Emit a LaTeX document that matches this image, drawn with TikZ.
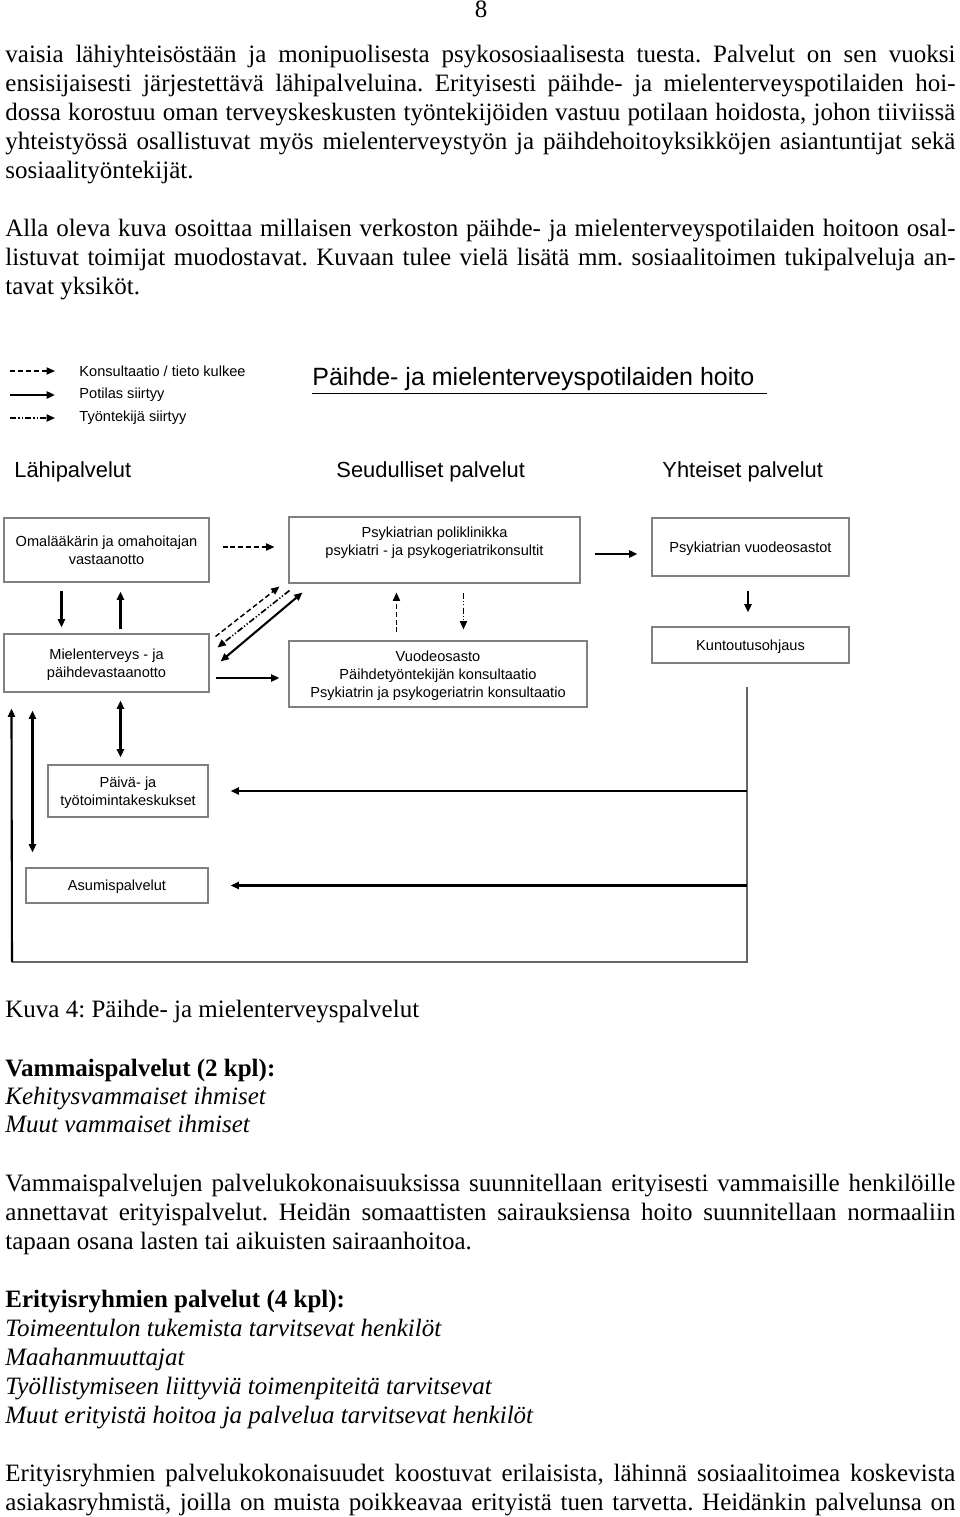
\documentclass[tikz,border=0pt]{standalone}
\usepackage{fontspec}
\setmainfont{Liberation Serif}
\setsansfont{Liberation Sans}
\usetikzlibrary{arrows.meta}
\newdimen\px \px=0.48pt
\newcommand{\jline}[1]{\makebox[456pt][s]{#1}}
\frenchspacing

\begin{document}
\begin{tikzpicture}[
    x=0.48pt, y=-0.48pt,
    every node/.style={inner sep=0pt},
    txt/.style={anchor=base west, font=\fontsize{12}{14}\selectfont},
    head/.style={anchor=west, font=\sffamily\fontsize{10.5}{12}\selectfont},
    legend/.style={anchor=west, font=\sffamily\fontsize{7}{8.6}\selectfont},
    box/.style={draw=black!50, line width=0.5pt, align=center, font=\sffamily\fontsize{7}{8.6}\selectfont, text depth=-1.4pt},
    info/.style={-{Triangle[length=4pt, width=3.4pt]}, line width=0.7pt, dash pattern=on 2.4pt off 1.4pt},
    patient/.style={-{Triangle[length=4pt, width=3.4pt]}, line width=1pt},
    worker/.style={-{Triangle[length=4pt, width=3.4pt]}, line width=0.8pt, dash pattern=on 3pt off 1pt on 0.6pt off 1pt on 0.6pt off 1pt},
    trunk/.style={line width=0.6pt, black!60}
]
    \useasboundingbox (0,0) rectangle (960,1517);

    \node[font=\fontsize{12}{14}\selectfont, anchor=base] (sivu) at (481,18) {8};

    \node[txt] (t1) at (5,63) {\jline{vaisia lähiyhteisöstään ja monipuolisesta psykososiaalisesta tuesta. Palvelut on sen vuoksi}};
    \node[txt] (t2) at (5,92) {\jline{ensisijaisesti järjestettävä lähipalveluina. Erityisesti päihde- ja mielenterveyspotilaiden hoi-}};
    \node[txt] (t3) at (5,121) {\jline{dossa korostuu oman terveyskeskusten työntekijöiden vastuu potilaan hoidosta, johon tiiviissä}};
    \node[txt] (t4) at (5,150) {\jline{yhteistyössä osallistuvat myös mielenterveystyön ja päihdehoitoyksikköjen asiantuntijat sekä}};
    \node[txt] (t5) at (5,179) {sosiaalityöntekijät.};
    \node[txt] (t6) at (5,237) {\jline{Alla oleva kuva osoittaa millaisen verkoston päihde- ja mielenterveyspotilaiden hoitoon osal-}};
    \node[txt] (t7) at (5,266) {\jline{listuvat toimijat muodostavat. Kuvaan tulee vielä lisätä mm. sosiaalitoimen tukipalveluja an-}};
    \node[txt] (t8) at (5,295) {tavat yksiköt.};

    \node[legend] (lkons) at (79,371) {Konsultaatio / tieto kulkee};
    \node[legend] (lpot) at (79,395) {Potilas siirtyy};
    \node[legend] (ltyo) at (79,418) {Työntekijä siirtyy};
    \draw[info] ([shift={(-69,0)}]lkons.west) -- ([shift={(-24,0)}]lkons.west);
    \draw[patient] ([shift={(-69,0)}]lpot.west) -- ([shift={(-24,0)}]lpot.west);
    \draw[worker] ([shift={(-69,0)}]ltyo.west) -- ([shift={(-24,0)}]ltyo.west);

    \node[anchor=west, font=\sffamily\fontsize{12}{14}\selectfont] (otsikko) at (312,381) {\underline{Päihde- ja mielenterveyspotilaiden hoito\kern6pt}};

    \node[head] (lahi) at (14,472) {Lähipalvelut};
    \node[head] (seutu) at (336,472) {Seudulliset palvelut};
    \node[head] (yhteis) at (662,472) {Yhteiset palvelut};

    \node[box, minimum width=205\px, minimum height=64\px] (oma) at (106.5,550) {Omalääkärin ja omahoitajan\\vastaanotto};
    \node[box, minimum width=291\px, minimum height=66\px] (poli) at (434.5,550) {Psykiatrian poliklinikka\\psykiatri - ja psykogeriatrikonsultit\\\strut};
    \node[box, minimum width=197\px, minimum height=58\px] (osastot) at (750.5,547) {Psykiatrian vuodeosastot};
    \node[box, minimum width=197\px, minimum height=36\px] (kuntoutus) at (750.5,645) {Kuntoutusohjaus};
    \node[box, minimum width=205\px, minimum height=58\px] (miel) at (106.5,663) {Mielenterveys - ja\\päihdevastaanotto};
    \node[box, minimum width=298\px, minimum height=66\px] (vuode) at (438,674) {Vuodeosasto\\Päihdetyöntekijän konsultaatio\\Psykiatrin ja psykogeriatrin konsultaatio};
    \node[box, minimum width=160\px, minimum height=52\px] (paiva) at (128,791) {Päivä- ja\\työtoimintakeskukset};
    \node[box, minimum width=182\px, minimum height=35\px] (asumis) at (117,885.5) {Asumispalvelut};

    \draw[info] ([shift={(13,-3)}]oma.east) -- ([shift={(-14,-3)}]poli.west);
    \draw[patient] ([shift={(14,4)}]poli.east) -- ([shift={(-14,7)}]osastot.west);
    \draw[patient] ([shift={(-2.5,14)}]osastot.south) -- ([shift={(-2.5,-14)}]kuntoutus.north);

    \draw[patient] ([shift={(58,8)}]oma.south west) -- ([shift={(58,-6)}]miel.north west);
    \draw[patient] ([shift={(117,-4)}]miel.north west) -- ([shift={(117,9)}]oma.south west);

    \draw[info] ([shift={(6,3)}]miel.north east) -- ([shift={(-9,3)}]poli.south west);
    \draw[worker] ([shift={(1,7)}]poli.south west) -- ([shift={(8,14)}]miel.north east);
    \draw[patient, {Triangle[length=4pt, width=3.4pt]}-{Triangle[length=4pt, width=3.4pt]}] ([shift={(11,28)}]miel.north east) -- ([shift={(14,9)}]poli.south west);

    \draw[patient] ([shift={(6,15)}]miel.east) -- ([shift={(-9,4)}]vuode.west);
    \draw[info] ([shift={(108,-8)}]vuode.north west) -- ([shift={(108,9)}]poli.south west);
    \draw[worker] ([shift={(175,9)}]poli.south west) -- ([shift={(175,-11)}]vuode.north west);

    \draw[patient, {Triangle[length=4pt, width=3.4pt]}-{Triangle[length=4pt, width=3.4pt]}] ([shift={(117,8)}]miel.south west) -- ([shift={(73,-7)}]paiva.north west);
    \draw[patient, {Triangle[length=4pt, width=3.4pt]}-{Triangle[length=4pt, width=3.4pt]}] ([shift={(29,18)}]miel.south west) -- ([shift={(7,-15)}]asumis.north west);

    \coordinate (runko) at ([shift={(-3.5,23)}]kuntoutus.south);
    \coordinate (kulma) at (747,962);
    \coordinate (kulma2) at (12,962);
    \draw[trunk] (runko) -- (kulma) -- (kulma2);
    \draw[patient] (kulma2) -- ([shift={(8,16)}]miel.south west);
    \draw[patient] (runko |- paiva.east) -- ([xshift=10.6pt]paiva.east);
    \draw[patient] (runko |- asumis.east) -- ([xshift=10.6pt]asumis.east);

    \node[txt] (kuva) at (5,1017) {Kuva 4: Päihde- ja mielenterveyspalvelut};
    \node[txt, font=\fontsize{12}{14}\selectfont\bfseries] (vamm) at (5,1076) {Vammaispalvelut (2 kpl):};
    \node[txt, font=\fontsize{12}{14}\selectfont\itshape] (v1) at (5,1104) {Kehitysvammaiset ihmiset};
    \node[txt, font=\fontsize{12}{14}\selectfont\itshape] (v2) at (5,1132) {Muut vammaiset ihmiset};
    \node[txt] (b1) at (5,1191) {\jline{Vammaispalvelujen palvelukokonaisuuksissa suunnitellaan erityisesti vammaisille henkilöille}};
    \node[txt] (b2) at (5,1220) {\jline{annettavat erityispalvelut. Heidän somaattisten sairauksiensa hoito suunnitellaan normaaliin}};
    \node[txt] (b3) at (5,1249) {tapaan osana lasten tai aikuisten sairaanhoitoa.};
    \node[txt, font=\fontsize{12}{14}\selectfont\bfseries] (erit) at (5,1307) {Erityisryhmien palvelut (4 kpl):};
    \node[txt, font=\fontsize{12}{14}\selectfont\itshape] (e1) at (5,1336) {Toimeentulon tukemista tarvitsevat henkilöt};
    \node[txt, font=\fontsize{12}{14}\selectfont\itshape] (e2) at (5,1365) {Maahanmuuttajat};
    \node[txt, font=\fontsize{12}{14}\selectfont\itshape] (e3) at (5,1394) {Työllistymiseen liittyviä toimenpiteitä tarvitsevat};
    \node[txt, font=\fontsize{12}{14}\selectfont\itshape] (e4) at (5,1423) {Muut erityistä hoitoa ja palvelua tarvitsevat henkilöt};
    \node[txt] (c1) at (5,1481) {\jline{Erityisryhmien palvelukokonaisuudet koostuvat erilaisista, lähinnä sosiaalitoimea koskevista}};
    \node[txt] (c2) at (5,1510) {\jline{asiakasryhmistä, joilla on muista poikkeavaa erityistä tuen tarvetta. Heidänkin palvelunsa on}};
\end{tikzpicture}
\end{document}
